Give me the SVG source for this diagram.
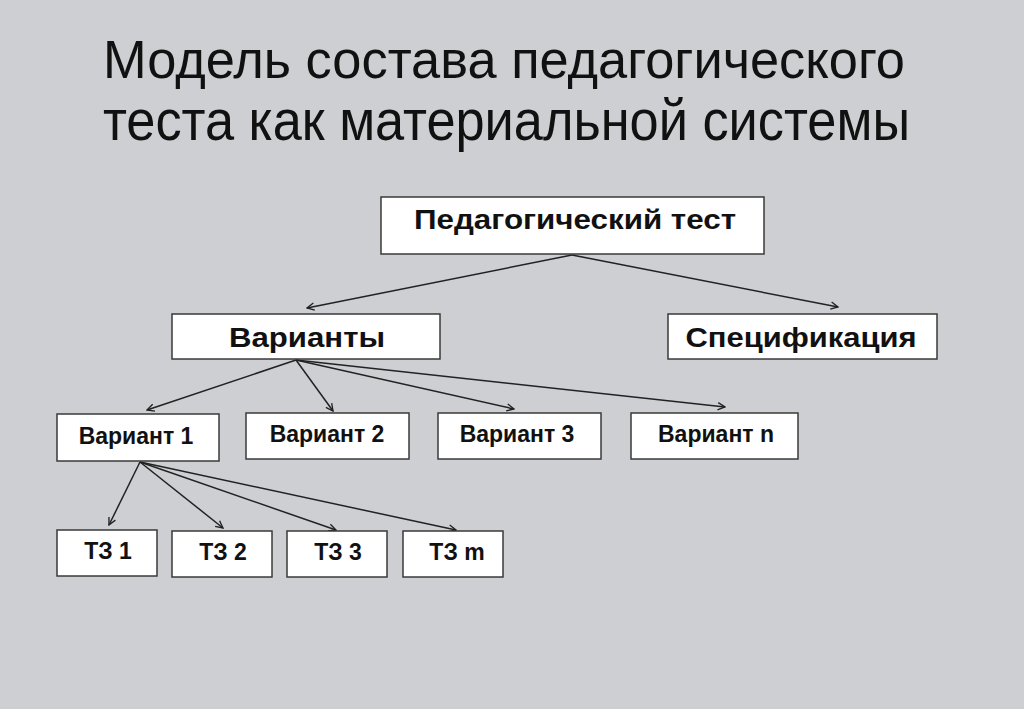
<svg xmlns="http://www.w3.org/2000/svg" width="1024" height="709" viewBox="0 0 1024 709">
<style>
.box{fill:#fff;stroke:#3a3a3a;stroke-width:1.5}
.t{font-family:"Liberation Sans",Arial,sans-serif;font-weight:bold;fill:#111;text-anchor:middle}
.big{font-size:27px}
.sm{font-size:23px}
.title{font-family:"Liberation Sans",Arial,sans-serif;fill:#111}
.c{stroke:#222;stroke-width:1.5;fill:none;marker-end:url(#ah)}
</style>
<defs>
<marker id="ah" viewBox="0 0 10 10" refX="9" refY="5" markerWidth="9" markerHeight="9" markerUnits="userSpaceOnUse" orient="auto">
<path d="M1,1 L9,5 L1,9" fill="none" stroke="#222" stroke-width="1.5"/>
</marker>
</defs>
<rect width="1024" height="709" fill="#cdcfd2"/>
<text class="title" x="103" y="78" font-size="53" textLength="802" lengthAdjust="spacingAndGlyphs">Модель состава педагогического</text>
<text class="title" x="103" y="140" font-size="58" textLength="807" lengthAdjust="spacingAndGlyphs">теста как материальной системы</text>
<g id="connectors">
<line class="c" x1="572" y1="255" x2="307" y2="308"/>
<line class="c" x1="572" y1="255" x2="838" y2="307"/>
<line class="c" x1="296" y1="360" x2="147" y2="410"/>
<line class="c" x1="296" y1="360" x2="333" y2="411"/>
<line class="c" x1="296" y1="360" x2="514" y2="409"/>
<line class="c" x1="296" y1="360" x2="725" y2="407"/>
<line class="c" x1="140" y1="462" x2="109" y2="525"/>
<line class="c" x1="140" y1="462" x2="223" y2="528"/>
<line class="c" x1="140" y1="462" x2="336" y2="530"/>
<line class="c" x1="140" y1="462" x2="456" y2="530"/>
</g>
<g id="n-test"><rect class="box" x="381" y="197" width="383" height="57"/><text class="t big" x="575" y="229" textLength="322" lengthAdjust="spacingAndGlyphs">Педагогический тест</text></g>
<g id="n-var"><rect class="box" x="172" y="314" width="268" height="45"/><text class="t big" x="307" y="347" textLength="156" lengthAdjust="spacingAndGlyphs">Варианты</text></g>
<g id="n-spec"><rect class="box" x="668" y="314" width="269" height="45"/><text class="t big" x="801" y="347" textLength="231" lengthAdjust="spacingAndGlyphs">Спецификация</text></g>
<g id="n-v1"><rect class="box" x="57" y="414" width="162" height="47"/><text class="t sm" x="136" y="444">Вариант 1</text></g>
<g id="n-v2"><rect class="box" x="246" y="413" width="163" height="46"/><text class="t sm" x="327" y="442">Вариант 2</text></g>
<g id="n-v3"><rect class="box" x="438" y="413" width="163" height="46"/><text class="t sm" x="517" y="442">Вариант 3</text></g>
<g id="n-vn"><rect class="box" x="631" y="413" width="167" height="46"/><text class="t sm" x="716" y="442">Вариант n</text></g>
<g id="n-tz1"><rect class="box" x="57" y="530" width="100" height="46"/><text class="t sm" x="108" y="559">ТЗ 1</text></g>
<g id="n-tz2"><rect class="box" x="172" y="531" width="100" height="46"/><text class="t sm" x="223" y="560">ТЗ 2</text></g>
<g id="n-tz3"><rect class="box" x="287" y="531" width="100" height="46"/><text class="t sm" x="338" y="560">ТЗ 3</text></g>
<g id="n-tzm"><rect class="box" x="403" y="531" width="100" height="46"/><text class="t sm" x="457" y="560">ТЗ m</text></g>
</svg>
